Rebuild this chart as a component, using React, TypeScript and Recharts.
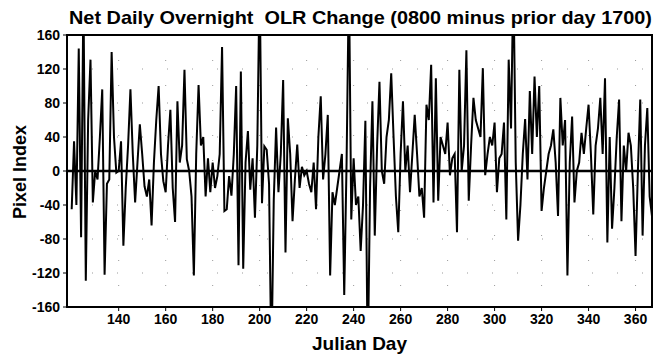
import React from 'react';
import { LineChart, Line, XAxis, YAxis, CartesianGrid, ReferenceLine, ReferenceArea } from 'recharts';

const startDay = 120;
const values120to159 = [
  -45, 35, -40, 144, -78, 210, -129, 60, 131, -37,
  0, -10, 40, 96, -122, -15, -10, 140, 40, -2,
  0, 35, -88, -20, 30, 96, 20, -37, 10, 55,
  20, -18, -30, -10, -64, 10, 60, 100, 20, -12,
];
const values160to199 = [
  -25, 30, 72, -20, -60, 82, 10, 30, 119, 14,
  0, -30, -123, 20, 101, 30, 40, -30, 15, -25,
  10, -20, -6, 20, 146, -47, -45, -6, -29, 20,
  100, -111, 117, -115, 10, 47, -22, 15, -55, 30,
];
const values200to239 = [
  230, -38, 29, 25, -15, -230, -35, 51, -25, 20,
  107, -96, 62, 20, -59, -10, 31, -20, 5, -5,
  0, -15, -25, 10, -45, 40, 88, -10, 20, 66,
  -123, -25, -40, -20, 0, 20, -146, 10, 230, -57,
];
const values240to279 = [
  15, -40, -30, -94, -40, 59, -230, -20, 82, -76,
  30, 105, 0, -15, 40, 60, 115, 40, -30, -72,
  20, 82, 0, 30, -25, 20, 66, 20, -30, -20,
  -55, 78, 60, 125, -37, 109, -35, 40, 30, 20,
];
const values280to319 = [
  57, -5, 15, 20, -72, 119, 0, 30, 142, -35,
  30, 86, 60, 50, 40, 121, -5, 20, 40, 30,
  57, -25, 15, 20, 57, -57, 131, 50, 230, 10,
  -82, -40, 20, 61, -10, 94, 20, 111, 40, 100,
];
const values320to367 = [
  -47, -20, 0, 20, 30, 49, 10, -53, 86, 30,
  60, -123, 10, 64, -37, 0, 10, 45, 20, 50,
  78, 20, -51, 30, 50, 86, 20, 109, -84, 40,
  -68, -20, 40, 84, -59, 30, 0, 45, 30, -20,
  -100, 0, 84, -76, 30, 74, -30, -53,
];

const olrValues = [
  ...values120to159,
  ...values160to199,
  ...values200to239,
  ...values240to279,
  ...values280to319,
  ...values320to367,
];

const xTicks = [140, 160, 180, 200, 220, 240, 260, 280, 300, 320, 340, 360];
const yTicks = [-160, -120, -80, -40, 0, 40, 80, 120, 160];
const xDomain = [118, 367];
const yDomain = [-160, 160];

const data = olrValues.map((v, i) => ({ day: startDay + i, olr: v }));

const FONT = '"Liberation Sans", Arial, Helvetica, sans-serif';
const tickStyle = { fontFamily: FONT, fontWeight: 700, fontSize: 14, fill: '#000' };

export default function App() {
  return (
    <div style={{ position: 'absolute', left: 0, top: 0, width: 655, height: 354, background: '#fff' }}>
      <LineChart
        width={655}
        height={354}
        data={data}
        margin={{ top: 35, right: 3, bottom: 0, left: 0 }}
      >
        <CartesianGrid stroke="#999" strokeDasharray="1 24" />
        <XAxis
          dataKey="day"
          type="number"
          domain={xDomain}
          ticks={xTicks}
          allowDataOverflow
          height={47}
          tickSize={4}
          tickMargin={3}
          tick={tickStyle}
          axisLine={{ stroke: '#000', strokeWidth: 2 }}
          tickLine={{ stroke: '#000' }}
          label={{
            value: 'Julian Day',
            position: 'insideBottom',
            offset: 4,
            style: { fontFamily: FONT, fontWeight: 700, fontSize: 19, fill: '#000' },
          }}
        />
        <YAxis
          type="number"
          domain={yDomain}
          ticks={yTicks}
          allowDataOverflow
          width={67}
          tickSize={4}
          tickMargin={3}
          tick={tickStyle}
          axisLine={{ stroke: '#000', strokeWidth: 2 }}
          tickLine={{ stroke: '#000' }}
          label={{
            content: () => (
              <text
                x={20}
                y={172}
                transform="rotate(-90 20 172)"
                textAnchor="middle"
                dominantBaseline="central"
                style={{ fontFamily: FONT, fontWeight: 700, fontSize: 18, fill: '#000' }}
              >
                Pixel Index
              </text>
            ),
          }}
        />
        <ReferenceArea
          x1={xDomain[0]}
          x2={xDomain[1]}
          y1={yDomain[0]}
          y2={yDomain[1]}
          fill="none"
          stroke="#000"
          strokeWidth={2}
          ifOverflow="visible"
        />
        <ReferenceLine y={0} stroke="#000" strokeWidth={2.5} />
        <Line
          type="linear"
          dataKey="olr"
          stroke="#000"
          strokeWidth={2}
          dot={false}
          isAnimationActive={false}
        />
      </LineChart>
      <svg
        width={655}
        height={34}
        style={{ position: 'absolute', left: 0, top: 0, pointerEvents: 'none' }}
      >
        <text
          x={69}
          y={24}
          textLength={583}
          lengthAdjust="spacingAndGlyphs"
          xmlSpace="preserve"
          style={{ fontFamily: FONT, fontWeight: 700, fontSize: 19, fill: '#000', whiteSpace: 'pre' }}
        >
          Net Daily Overnight  OLR Change (0800 minus prior day 1700)
        </text>
      </svg>
    </div>
  );
}
